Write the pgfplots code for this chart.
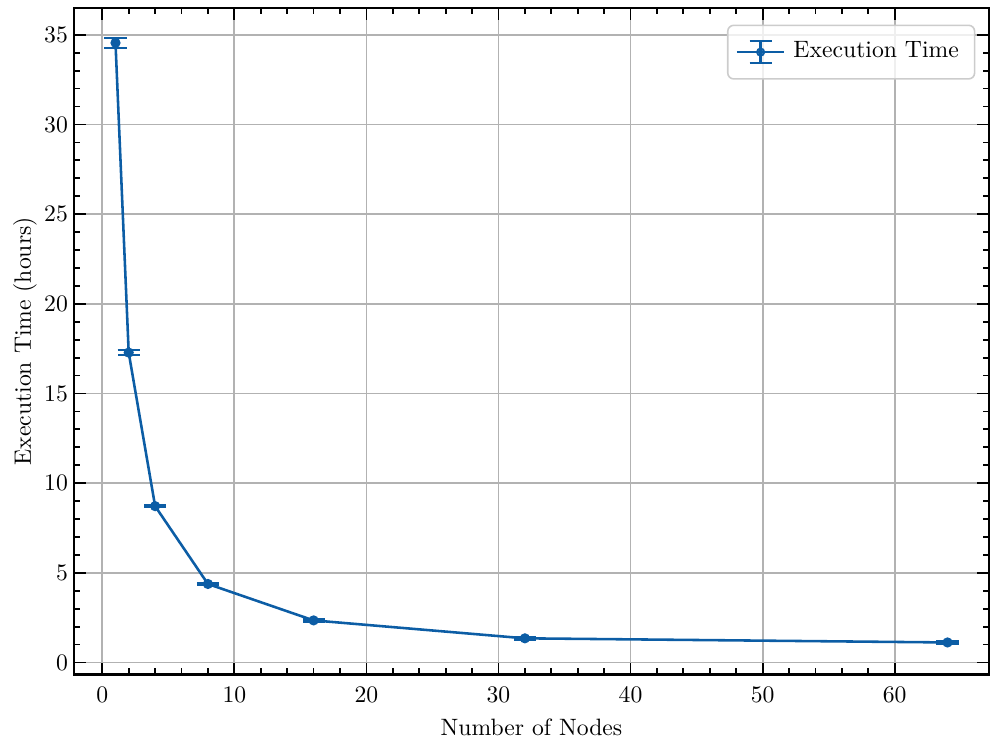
\documentclass[border=0pt]{standalone}
\usepackage{fontspec}
\setmainfont{lmroman10-regular.otf}
\usepackage{pgfplots}
\pgfplotsset{compat=1.18}
\definecolor{spblue}{HTML}{0C5DA5}
\begin{document}
\begin{tikzpicture}
\begin{axis}[
    width=232pt, height=169pt,
    scale only axis,
    xmin=-2.15, xmax=67.15,
    ymin=-0.67, ymax=36.5,
    xtick={0,10,...,60},
    ytick={0,5,...,35},
    minor x tick num=4,
    minor y tick num=4,
    tick align=inside,
    xtick pos=both, ytick pos=both,
    major tick length=3pt,
    minor tick length=1.6pt,
    every tick/.style={black, line width=0.45pt},
    axis line style={line width=0.55pt},
    grid=major,
    grid style={gray!60, line width=0.45pt},
    /pgf/number format/assume math mode=true,
    font=\fontsize{6}{7.2}\selectfont,
    tick label style={font=\fontsize{6}{7.2}\selectfont},
    label style={font=\fontsize{6}{7.2}\selectfont},
    xticklabel style={yshift=0.5pt},
    yticklabel style={xshift=2pt},
    xlabel={Number of Nodes},
    ylabel={Execution Time (hours)},
    xlabel style={yshift=3pt},
    ylabel style={yshift=-5pt},
    legend style={
        at={(0.985,0.975)}, anchor=north east,
        draw=black!20, rounded corners=1.5pt,
        fill=white, fill opacity=0.8, text opacity=1,
        font=\fontsize{6}{7.2}\selectfont,
        inner sep=2pt,
    },
    legend cell align=left,
]
\addplot[
    spblue, line width=0.65pt,
    mark=*, mark size=0.95pt,
    error bars/.cd,
        y dir=both, y explicit,
        error bar style={line width=0.65pt, spblue},
        error mark options={rotate=90, mark size=2.8pt, line width=0.65pt, spblue},
] coordinates {
    (1,34.55)  +- (0,0.28)
    (2,17.28)  +- (0,0.14)
    (4,8.72)   +- (0,0.05)
    (8,4.38)   +- (0,0.05)
    (16,2.35)  +- (0,0.05)
    (32,1.35)  +- (0,0.05)
    (64,1.12)  +- (0,0.05)
};
\addlegendimage{
    legend image code/.code={
        \draw[spblue, line width=0.65pt] (0pt,0pt) -- (12pt,0pt);
        \draw[spblue, line width=0.65pt] (6pt,-2.8pt) -- (6pt,2.8pt);
        \draw[spblue, line width=0.65pt] (3.2pt,2.8pt) -- (8.8pt,2.8pt);
        \draw[spblue, line width=0.65pt] (3.2pt,-2.8pt) -- (8.8pt,-2.8pt);
        \fill[spblue] (6pt,0pt) circle (0.95pt);
    }
}
\legend{,Execution Time}
\end{axis}
\path ([xshift=2pt,yshift=2pt]current axis.north east);
\end{tikzpicture}
\end{document}
